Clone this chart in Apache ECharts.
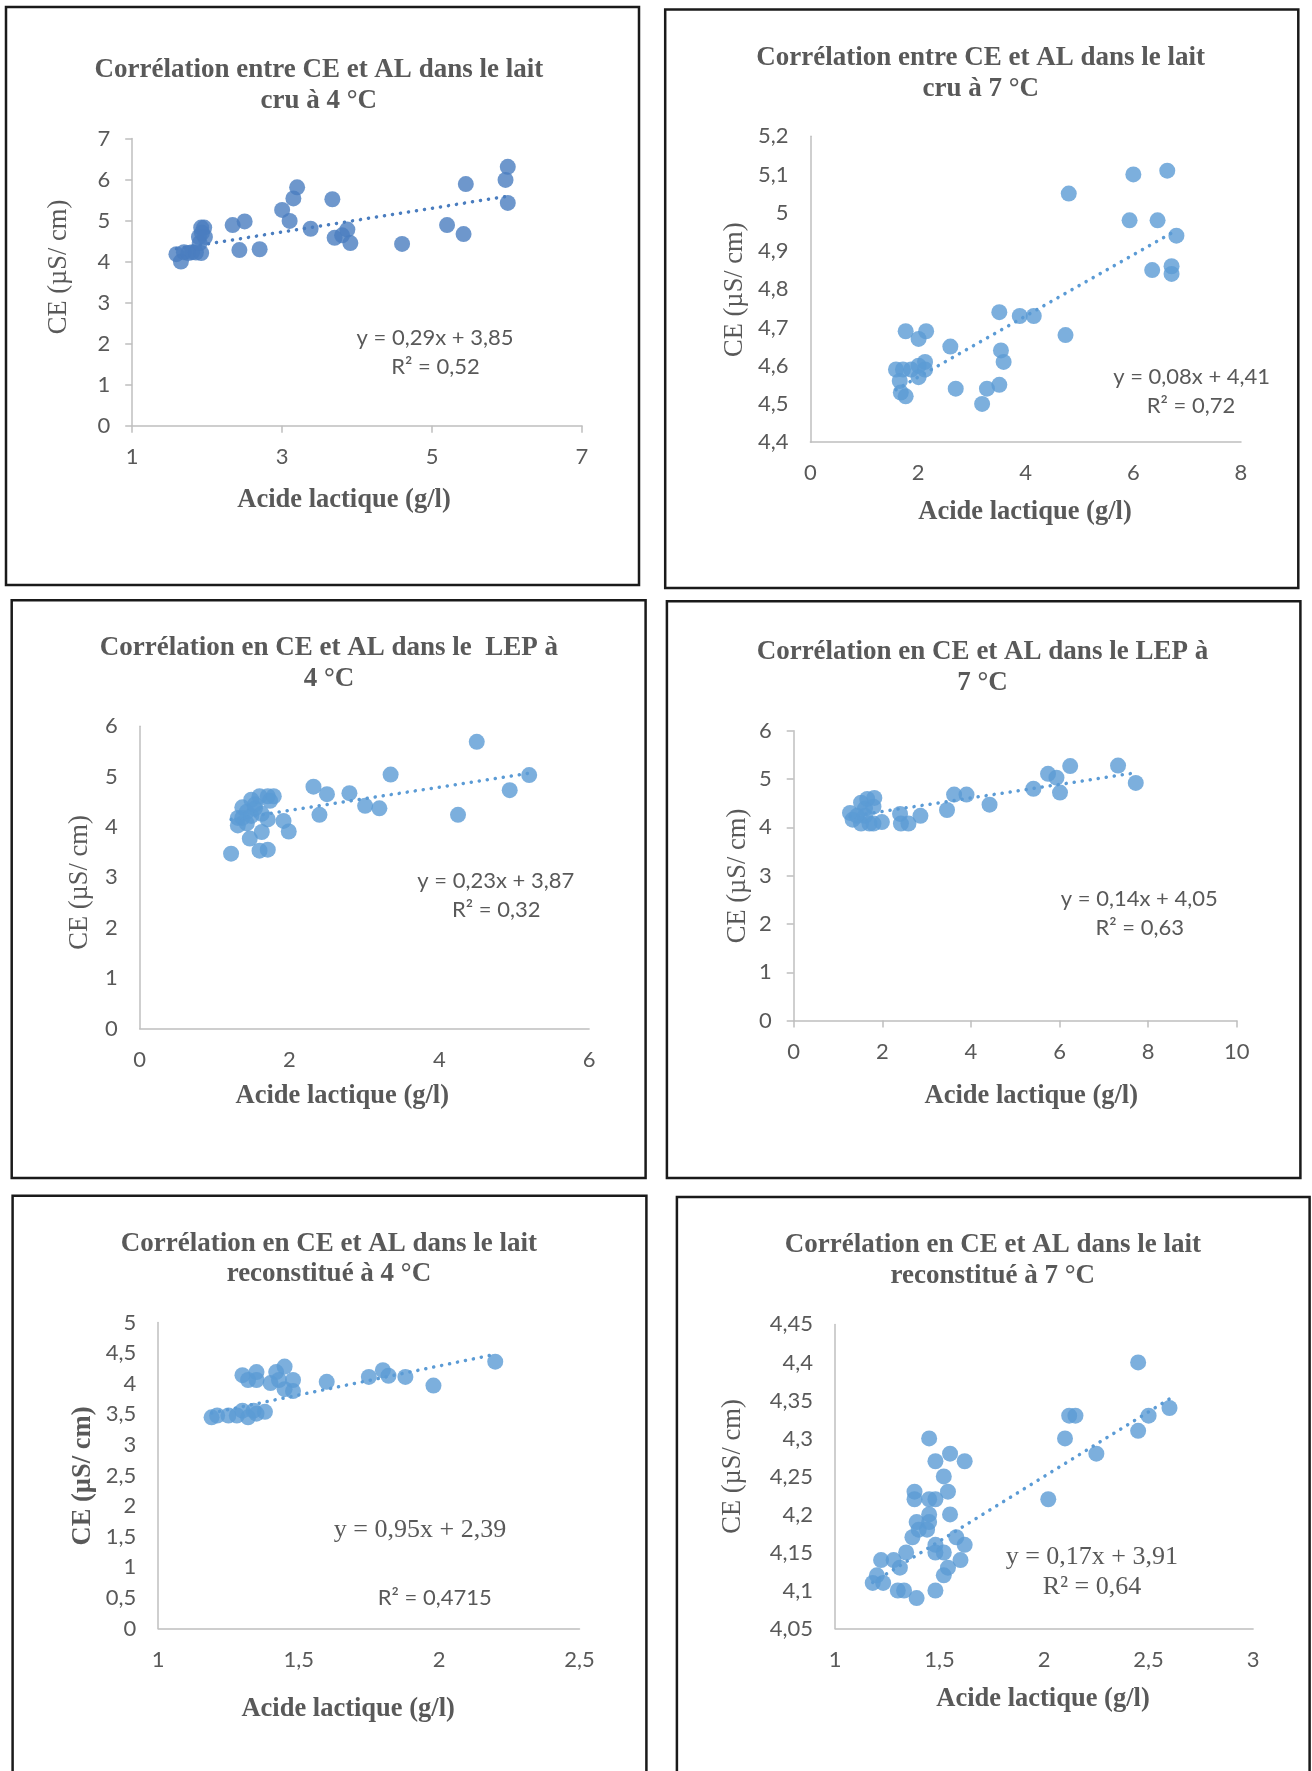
<!DOCTYPE html>
<html>
<head>
<meta charset="utf-8">
<script src="https://cdn.jsdelivr.net/npm/echarts@6/dist/echarts.min.js"></script>
<style>
html,body{margin:0;padding:0;background:#fff}
#c{width:1312px;height:1771px}
</style>
</head>
<body>
<div id="c"></div>
<script>
// Lait cru à 4 °C
const cru4X = [1.59,1.65,1.69,1.75,1.80,1.85,1.89,1.92,1.96,1.92,1.97,1.90,1.93,2.34,2.50,2.43,2.70,3.00,3.10,3.15,3.20,3.38,3.67,3.70,3.80,3.87,3.91,4.60,5.20,5.42,5.45,5.98,6.01,6.01];
const cru4Y = [4.18,4.00,4.23,4.21,4.23,4.22,4.60,4.83,4.83,4.21,4.60,4.45,4.70,4.89,4.98,4.28,4.30,5.26,4.99,5.54,5.81,4.80,5.52,4.58,4.64,4.78,4.45,4.43,4.89,4.67,5.89,5.99,6.31,5.43];

// Lait cru à 7 °C
const cru7X = [1.59,1.72,1.66,1.68,1.77,1.77,1.87,2.01,2.01,2.01,2.13,2.13,2.15,2.60,2.70,3.19,3.28,3.51,3.51,3.54,3.59,3.89,4.15,4.74,4.80,5.93,6.00,6.35,6.45,6.63,6.71,6.71,6.80];
const cru7Y = [4.59,4.59,4.56,4.53,4.52,4.69,4.59,4.67,4.57,4.60,4.61,4.59,4.69,4.65,4.54,4.50,4.54,4.55,4.74,4.64,4.61,4.73,4.73,4.68,5.05,4.98,5.10,4.85,4.98,5.11,4.86,4.84,4.94];

// LEP à 4 °C
const lep4X = [1.22,1.31,1.31,1.37,1.37,1.43,1.43,1.47,1.49,1.49,1.54,1.54,1.60,1.60,1.63,1.63,1.71,1.71,1.71,1.74,1.79,1.92,1.99,2.32,2.40,2.50,2.80,3.01,3.20,3.35,4.25,4.50,4.94,5.20];
const lep4Y = [3.47,4.03,4.18,4.39,4.18,4.07,4.30,3.77,4.54,4.22,4.37,4.45,4.61,3.53,3.90,4.26,4.61,4.15,3.55,4.52,4.61,4.12,3.91,4.80,4.24,4.65,4.67,4.42,4.37,5.04,4.24,5.69,4.73,5.03];

// LEP à 7 °C
const lep7X = [1.27,1.33,1.43,1.52,1.52,1.61,1.61,1.66,1.71,1.80,1.80,1.82,1.99,2.40,2.42,2.59,2.86,3.46,3.62,3.90,4.42,5.41,5.74,5.93,6.01,6.24,7.32,7.72];
const lep7Y = [4.30,4.16,4.24,4.08,4.51,4.24,4.39,4.59,4.08,4.08,4.43,4.61,4.11,4.28,4.08,4.08,4.24,4.36,4.68,4.68,4.47,4.80,5.11,5.03,4.72,5.27,5.28,4.92];

// Lait reconstitué à 4 °C
const rec4X = [1.19,1.21,1.25,1.28,1.30,1.32,1.34,1.35,1.38,1.30,1.32,1.35,1.35,1.40,1.42,1.43,1.45,1.48,1.45,1.48,1.60,1.75,1.80,1.82,1.88,1.98,2.20];
const rec4Y = [3.45,3.48,3.48,3.48,3.56,3.45,3.56,3.51,3.54,4.14,4.06,4.19,4.06,4.01,4.19,4.06,4.28,4.06,3.91,3.88,4.03,4.11,4.22,4.13,4.11,3.97,4.36];

// Lait reconstitué à 7 °C
const rec7X = [1.18,1.20,1.22,1.23,1.28,1.30,1.31,1.33,1.34,1.37,1.38,1.38,1.39,1.39,1.40,1.44,1.45,1.45,1.45,1.45,1.48,1.48,1.48,1.48,1.48,1.52,1.52,1.52,1.54,1.54,1.55,1.55,1.58,1.60,1.62,1.62,2.02,2.10,2.12,2.15,2.25,2.45,2.45,2.50,2.60];
const rec7Y = [4.11,4.12,4.14,4.11,4.14,4.10,4.13,4.10,4.15,4.17,4.23,4.22,4.19,4.09,4.18,4.18,4.30,4.22,4.20,4.19,4.27,4.22,4.16,4.15,4.10,4.25,4.15,4.12,4.23,4.13,4.28,4.20,4.17,4.14,4.27,4.16,4.22,4.30,4.33,4.33,4.28,4.40,4.31,4.33,4.34];

// Linear trend lines (slope, intercept) and R²
const trendSlope = [0.29, 0.08, 0.23, 0.14, 0.95, 0.17];
const trendIntercept = [3.85, 4.41, 3.87, 4.05, 2.39, 3.91];
const rSquared = ['0,52', '0,72', '0,32', '0,63', '0,4715', '0,64'];

// Chart titles (two lines each)
const titles = [
  ['Corrélation entre CE et AL dans le lait', 'cru à 4 °C'],
  ['Corrélation entre CE et AL dans le lait', 'cru à 7 °C'],
  ['Corrélation en CE et AL dans le  LEP à', '4 °C'],
  ['Corrélation en CE et AL dans le LEP à', '7 °C'],
  ['Corrélation en CE et AL dans le lait', 'reconstitué à 4 °C'],
  ['Corrélation en CE et AL dans le lait', 'reconstitué à 7 °C']
];
const xAxisTitle = 'Acide lactique (g/l)';
const yAxisTitle = 'CE (µS/ cm)';

// Axis ranges: [min, max, interval]
const xRanges = [[1, 7, 2], [0, 8, 2], [0, 6, 2], [0, 10, 2], [1, 2.5, 0.5], [1, 3, 0.5]];
const yRanges = [[0, 7, 1], [4.4, 5.2, 0.1], [0, 6, 1], [0, 6, 1], [0, 5, 0.5], [4.05, 4.45, 0.05]];

const xs = [cru4X, cru7X, lep4X, lep7X, rec4X, rec7X];
const ys = [cru4Y, cru7Y, lep4Y, lep7Y, rec4Y, rec7Y];

// ---- layout of each panel ----
const panels = [
  { frame: [6, 7, 639, 585], grid: [132.2, 138.5, 582, 425.7], ticks: true, color: '#4A7DBF',
    t1: [318.8, 70.4], t2: [318.8, 100.8], yName: [58.6, 267], xName: [344, 500.4],
    eq: [435, 337.5], r2: [435.5, 366.8], eqSerif: false, r2Serif: false, boldY: false },
  { frame: [665.2, 9.4, 1298.3, 588], grid: [810.4, 136.2, 1241, 442.2], ticks: false, color: '#5B9BD5',
    t1: [980.7, 58.3], t2: [980.7, 89.2], yName: [735.5, 289.7], xName: [1025, 512.4],
    eq: [1191.6, 377.4], r2: [1191, 406.3], eqSerif: false, r2Serif: false, boldY: false },
  { frame: [11.7, 600.2, 645.6, 1178], grid: [139.7, 726.2, 589.1, 1028.5], ticks: false, color: '#5B9BD5',
    t1: [328.9, 648.3], t2: [328.9, 679.2], yName: [80.3, 882.5], xName: [342.3, 1096],
    eq: [495.8, 880.8], r2: [496.2, 909.8], eqSerif: false, r2Serif: false, boldY: false },
  { frame: [666.9, 601.3, 1300.4, 1178], grid: [793.7, 730.8, 1236.8, 1020.6], ticks: true, color: '#5B9BD5',
    t1: [982.4, 652.1], t2: [982.4, 683.3], yName: [738.4, 876], xName: [1031.3, 1096],
    eq: [1139.3, 898.5], r2: [1139.7, 927.5], eqSerif: false, r2Serif: false, boldY: false },
  { frame: [12.6, 1195.8, 646.4, 1800], grid: [158.2, 1322.5, 579.5, 1628.5], ticks: false, color: '#5B9BD5',
    t1: [328.9, 1244], t2: [328.9, 1274.2], yName: [82.8, 1476], xName: [348.1, 1709.6],
    eq: [420, 1529.8], r2: [434.7, 1597.6], eqSerif: true, r2Serif: false, boldY: true },
  { frame: [676.9, 1197, 1309.6, 1800], grid: [835.1, 1324.4, 1253.1, 1628.5], ticks: false, color: '#5B9BD5',
    t1: [992.8, 1245.2], t2: [992.8, 1276], yName: [733.4, 1466.5], xName: [1043, 1699.4],
    eq: [1091.8, 1557], r2: [1092, 1587.1], eqSerif: true, r2Serif: true, boldY: false }
];

const GRAY = '#595959';
const AXIS = '#BFBFBF';
const SERIF = '"Liberation Serif", "Times New Roman", serif';
const SANS = 'Lato, "Open Sans", sans-serif';

const fmt = v => String(+(+v).toFixed(2)).replace('.', ',');
const fmtCoef = v => v.toFixed(2).replace('.', ',');

const grid = [], xAxis = [], yAxis = [], series = [], graphic = [];

function label(text, pos, font, rot) {
  graphic.push({
    type: 'text', x: pos[0], y: pos[1], rotation: rot || 0, silent: true,
    style: { text, x: 0, y: 0, font, fill: GRAY, textAlign: 'center', textVerticalAlign: 'middle' }
  });
}

panels.forEach((p, i) => {
  const [gl, gt, gr, gb] = p.grid;
  grid.push({ left: gl, top: gt, width: gr - gl, height: gb - gt, containLabel: false });

  const axisCommon = {
    gridIndex: i,
    axisLine: { show: true, onZero: false, lineStyle: { color: AXIS, width: 1.5 } },
    axisTick: { show: p.ticks, length: 7, lineStyle: { color: AXIS, width: 1.5 } },
    splitLine: { show: false },
    axisLabel: { color: GRAY, fontFamily: SANS, fontSize: 22, formatter: fmt }
  };
  xAxis.push(Object.assign({}, axisCommon, {
    type: 'value', min: xRanges[i][0], max: xRanges[i][1], interval: xRanges[i][2],
    axisLabel: Object.assign({}, axisCommon.axisLabel, { margin: 20 })
  }));
  yAxis.push(Object.assign({}, axisCommon, {
    type: 'value', min: yRanges[i][0], max: yRanges[i][1], interval: yRanges[i][2],
    axisLabel: Object.assign({}, axisCommon.axisLabel, { margin: 22 })
  }));

  const data = xs[i].map((x, k) => [x, ys[i][k]]);
  series.push({
    type: 'scatter', xAxisIndex: i, yAxisIndex: i, data,
    symbol: 'circle', symbolSize: 16, itemStyle: { color: p.color }, z: 3
  });

  const x0 = Math.min(...xs[i]), x1 = Math.max(...xs[i]);
  const a = trendSlope[i], b = trendIntercept[i];
  series.push({
    type: 'line', xAxisIndex: i, yAxisIndex: i,
    data: [[x0, a * x0 + b], [x1, a * x1 + b]],
    symbol: 'none', silent: true, z: 4,
    lineStyle: { color: p.color, width: 3.5, type: [0.1, 8], cap: 'round' }
  });

  // panel frame
  const [fl, ft, fr, fb] = p.frame;
  graphic.push({
    type: 'rect', silent: true, z: -1,
    shape: { x: fl, y: ft, width: fr - fl, height: fb - ft },
    style: { fill: 'none', stroke: '#1a1a1a', lineWidth: 2.5 }
  });

  // titles
  label(titles[i][0], p.t1, 'bold 27px ' + SERIF);
  label(titles[i][1], p.t2, 'bold 27px ' + SERIF);

  // axis names
  label(xAxisTitle, p.xName, 'bold 26.5px ' + SERIF);
  label(yAxisTitle, p.yName, (p.boldY ? 'bold ' : '') + '26.5px ' + SERIF, Math.PI / 2);

  // regression equation and R²
  const eqText = 'y = ' + fmtCoef(a) + 'x + ' + fmtCoef(b);
  label(eqText, p.eq, p.eqSerif ? '26px ' + SERIF : '22px ' + SANS);
  label('R² = ' + rSquared[i], p.r2, p.r2Serif ? '26px ' + SERIF : '22px ' + SANS);
});

const chart = echarts.init(document.getElementById('c'), null, { renderer: 'canvas' });
chart.setOption({
  animation: false,
  backgroundColor: '#fff',
  grid, xAxis, yAxis, series, graphic
});
</script>
</body>
</html>
